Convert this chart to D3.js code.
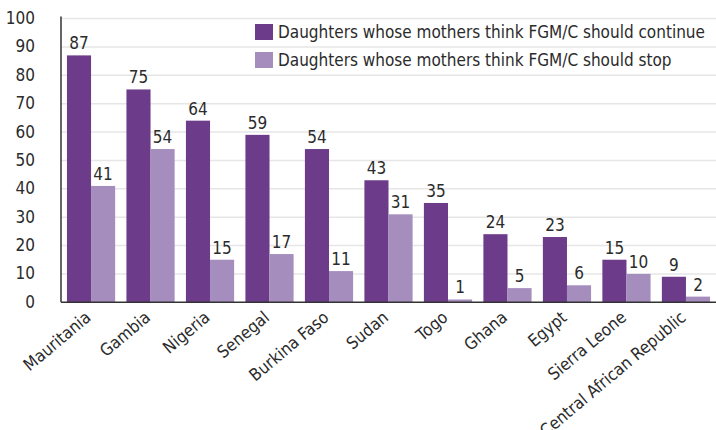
<!DOCTYPE html>
<html>
<head>
<meta charset="utf-8">
<script src="https://cdn.jsdelivr.net/npm/d3@7"></script>
<style>
  body { margin: 0; background: #fff; }
  text { font-family: "DejaVu Sans Condensed", "Liberation Sans Narrow", sans-serif; fill: #2b2b2b; }
</style>
</head>
<body>
<div id="chart"></div>
<script>

var countries = ["Mauritania", "Gambia", "Nigeria", "Senegal", "Burkina Faso", "Sudan",
  "Togo", "Ghana", "Egypt", "Sierra Leone", "Central African Republic"];
var shouldContinue = [87, 75, 64, 59, 54, 43, 35, 24, 23, 15, 9];
var shouldStop = [41, 54, 15, 17, 11, 31, 1, 5, 6, 10, 2];
var seriesNames = ["Daughters whose mothers think FGM/C should continue",
  "Daughters whose mothers think FGM/C should stop"];
var yTicks = [0, 10, 20, 30, 40, 50, 60, 70, 80, 90, 100];

var width = 716, height = 430;
var margin = {top: 18.5, right: 0, bottom: 128, left: 61};
var colors = ["#6c3b89", "#a58ebe"];

var svg = d3.select("#chart").append("svg")
  .attr("width", width)
  .attr("height", height);

var x0 = d3.scaleBand()
  .domain(countries)
  .range([margin.left, width])
  .paddingInner(0.19)
  .paddingOuter(0.1);

var x1 = d3.scaleBand()
  .domain([0, 1])
  .range([0, x0.bandwidth()]);

var y = d3.scaleLinear()
  .domain([0, 100])
  .range([height - margin.bottom + 0.3, margin.top]);

// gridlines
svg.append("g")
  .selectAll("line")
  .data(yTicks.slice(1))
  .enter().append("line")
  .attr("x1", margin.left)
  .attr("x2", width)
  .attr("y1", function(d) { return y(d); })
  .attr("y2", function(d) { return y(d); })
  .attr("stroke", "#e6e6e6")
  .attr("stroke-width", 1.5);

// y labels
svg.append("g")
  .selectAll("text")
  .data(yTicks)
  .enter().append("text")
  .attr("x", 35)
  .attr("y", function(d) { return y(d) + 5.5; })
  .attr("text-anchor", "end")
  .style("font-size", "17px")
  .text(function(d) { return d; });

var groups = svg.append("g")
  .selectAll("g")
  .data(countries)
  .enter().append("g")
  .attr("transform", function(d) { return "translate(" + x0(d) + ",0)"; });

var series = [shouldContinue, shouldStop];

series.forEach(function(vals, s) {
  groups.append("rect")
    .attr("x", x1(s))
    .attr("width", x1.bandwidth())
    .attr("y", function(d, i) { return y(vals[i]); })
    .attr("height", function(d, i) { return y(0) - y(vals[i]); })
    .attr("fill", colors[s]);

  groups.append("text")
    .attr("x", x1(s) + x1.bandwidth() / 2)
    .attr("y", function(d, i) { return y(vals[i]) - 6; })
    .attr("text-anchor", "middle")
    .style("font-size", "17px")
    .text(function(d, i) { return vals[i]; });
});

// axis lines
svg.append("line")
  .attr("x1", margin.left).attr("x2", margin.left)
  .attr("y1", margin.top - 2).attr("y2", y(0))
  .attr("stroke", "#333").attr("stroke-width", 1.5);
svg.append("line")
  .attr("x1", margin.left).attr("x2", width)
  .attr("y1", y(0)).attr("y2", y(0))
  .attr("stroke", "#333").attr("stroke-width", 1.5);

// x labels
svg.append("g")
  .selectAll("text")
  .data(countries)
  .enter().append("text")
  .attr("text-anchor", "end")
  .attr("transform", function(d) {
    return "translate(" + (x0(d) + x0.bandwidth() / 2 + 1) + "," + (y(0) + 17) + ") rotate(-40)";
  })
  .style("font-size", "17px")
  .text(function(d) { return d; });

// legend
var legend = svg.append("g")
  .selectAll("g")
  .data(seriesNames)
  .enter().append("g")
  .attr("transform", function(d, i) { return "translate(255," + (24 + i * 28) + ")"; });

legend.append("rect")
  .attr("width", 18)
  .attr("height", 16)
  .attr("fill", function(d, i) { return colors[i]; });

legend.append("text")
  .attr("x", 23)
  .attr("y", 14)
  .style("font-size", "17px")
  .text(function(d) { return d; });

</script>
</body>
</html>
